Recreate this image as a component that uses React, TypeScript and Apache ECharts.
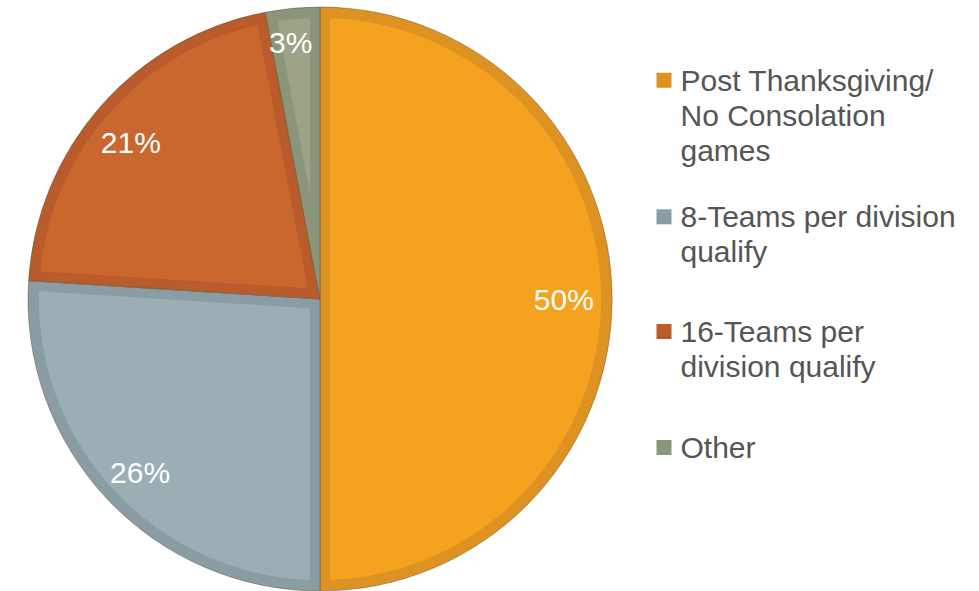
import React, { useEffect, useRef } from 'react';
import * as echarts from 'echarts';

const categories = [
  'Post Thanksgiving/ No Consolation games',
  '8-Teams per division qualify',
  '16-Teams per division qualify',
  'Other',
];
const legendLines = [
  'Post Thanksgiving/\nNo Consolation\ngames',
  '8-Teams per division\nqualify',
  '16-Teams per\ndivision qualify',
  'Other',
];
const shares = [50, 26, 21, 3];
const edgeColors = ['#DE9222', '#8B9DA4', '#B95B2A', '#8B957A'];
const fillColors = ['#F4A21F', '#9BAEB4', '#C9672F', '#9DA386'];

const W = 979;
const H = 591;
const CX = 320;
const CY = 299;
const R = 292;
const EDGE_INSET = 10;
const ARC_INSET = 11;
const FONT = "'Liberation Sans', Arial, sans-serif";
const LINE_H = 35;
const MARK = 15;
const legendMarkerTops = [72.7, 209.3, 324, 440];
const labelNudges = [[-3, 0], [0, 5], [-4, 7], [-6, -11]];

export default function App() {
  const ref = useRef<HTMLDivElement>(null);
  useEffect(() => {
    if (!ref.current) return;
    const chart = echarts.init(ref.current, undefined, { renderer: 'svg' });
    const total = shares.reduce((a, b) => a + b, 0);
    const dir = (p: number) => [Math.sin(p), -Math.cos(p)];

    const renderItem = (params: any, api: any) => {
      const i = params.dataIndex;
      const before = shares.slice(0, i).reduce((a, b) => a + b, 0);
      const v = api.value(0);
      const phi1 = (before / total) * 2 * Math.PI;
      const theta = (v / total) * 2 * Math.PI;
      const phi2 = phi1 + theta;
      const phim = phi1 + theta / 2;
      const s = EDGE_INSET / Math.sin(Math.min(theta, Math.PI) / 2);
      const rho = R - ARC_INSET;
      if (s >= rho) return { type: 'group', children: [] };
      const m = dir(phim);
      const ax = s * m[0];
      const ay = s * m[1];
      const hit = (p: number) => {
        const u = dir(p);
        const au = ax * u[0] + ay * u[1];
        const t = -au + Math.sqrt(au * au - (ax * ax + ay * ay) + rho * rho);
        return [ax + t * u[0], ay + t * u[1]];
      };
      const p1 = hit(phi1);
      const p2 = hit(phi2);
      const ang = (p: number[]) => Math.atan2(p[0], -p[1]);
      const a1 = ang(p1);
      let a2 = ang(p2);
      while (a2 < a1) a2 += 2 * Math.PI;
      const pts: number[][] = [[CX + ax, CY + ay], [CX + p1[0], CY + p1[1]]];
      const steps = Math.max(2, Math.ceil((a2 - a1) / 0.01));
      for (let k = 1; k < steps; k++) {
        const a = a1 + ((a2 - a1) * k) / steps;
        pts.push([CX + rho * Math.sin(a), CY - rho * Math.cos(a)]);
      }
      pts.push([CX + p2[0], CY + p2[1]]);
      return { type: 'polygon', shape: { points: pts }, style: { fill: fillColors[i] }, silent: true };
    };

    const legends = categories.map((name, i) => {
      const n = legendLines[i].split('\n').length;
      const boxH = n * LINE_H;
      const sqTop = (LINE_H - MARK) / 2;
      // square marker level with the first text line; bare move-to points set the icon's bounds
      const icon = `path://M0,0 M0,${sqTop}h${MARK}v${MARK}h-${MARK}z M${MARK},${boxH}`;
      return {
        data: [name],
        left: 656.5,
        top: legendMarkerTops[i] - sqTop,
        orient: 'vertical',
        padding: 0,
        itemWidth: MARK,
        itemHeight: boxH,
        icon,
        itemStyle: { borderWidth: 0 },
        selectedMode: false,
        formatter: () => legendLines[i],
        textStyle: {
          fontFamily: FONT,
          fontSize: 30,
          lineHeight: LINE_H,
          color: '#555555',
          padding: [0, 0, 0, 4],
        },
      };
    });

    chart.setOption({
      animation: false,
      backgroundColor: '#ffffff',
      legend: legends,
      series: [
        {
          type: 'pie',
          z: 2,
          center: [CX, CY],
          radius: R,
          startAngle: 90,
          clockwise: true,
          silent: true,
          label: { show: false },
          labelLine: { show: false },
          itemStyle: { borderWidth: 1, borderColor: 'rgba(90,75,50,0.45)' },
          data: categories.map((name, i) => ({
            name,
            value: shares[i],
            itemStyle: { color: edgeColors[i] },
          })),
        },
        {
          type: 'custom',
          z: 3,
          coordinateSystem: 'none',
          silent: true,
          renderItem,
          data: shares.map((v) => [v]),
        },
        {
          type: 'pie',
          z: 4,
          center: [CX, CY],
          radius: [R * 0.67, R],
          startAngle: 90,
          clockwise: true,
          silent: true,
          itemStyle: { color: 'rgba(0,0,0,0)', borderWidth: 0 },
          label: {
            show: true,
            position: 'inside',
            formatter: '{c}%',
            color: '#ffffff',
            fontFamily: FONT,
            fontSize: 30,
          },
          labelLayout: (p: any) => ({
            dx: labelNudges[p.dataIndex][0],
            dy: labelNudges[p.dataIndex][1],
          }),
          labelLine: { show: false },
          data: categories.map((name, i) => ({ name, value: shares[i] })),
        },
      ],
    });
    return () => chart.dispose();
  }, []);
  return (
    <div
      ref={ref}
      style={{ position: 'fixed', left: 0, top: 0, width: W, height: H }}
    />
  );
}
